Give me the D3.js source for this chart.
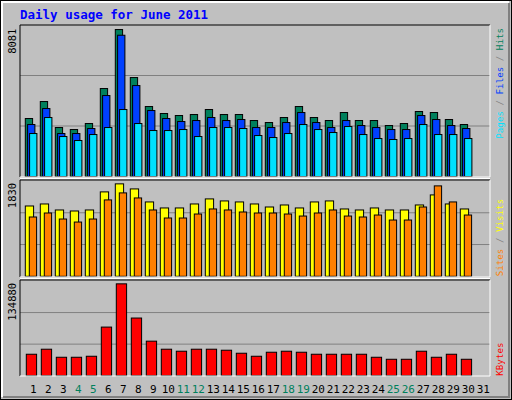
<!DOCTYPE html>
<html><head><meta charset="utf-8">
<script src="https://cdn.jsdelivr.net/npm/d3@7"></script>
<style>body{margin:0;background:#fff}</style></head>
<body><svg id="c" width="512" height="400"></svg>
<script>
const days = d3.range(1, 32);
const weekend = [4,5,11,12,18,19,25,26];
const hits = [3188,4122,2693,2583,2913,4837,8081,5441,3847,3463,3353,3408,3683,3408,3408,3078,2968,3243,3847,3243,3078,3518,3078,3078,2803,2913,3573,3518,3133,2858];
const files = [2858,3737,2363,2363,2638,4452,7768,5001,3627,3188,3023,3078,3243,3078,3133,2693,2693,2968,3517,2968,2693,3078,2803,2693,2583,2583,3353,3133,2803,2638];
const pages = [2363,3243,2198,1979,2308,2693,3683,2913,2528,2528,2583,2198,2693,2693,2638,2253,2143,2363,2858,2583,2418,2748,2308,2088,2034,2088,2858,2308,2308,2088];
const visits = [1392,1432,1313,1293,1313,1671,1830,1730,1472,1353,1353,1432,1532,1492,1472,1432,1372,1412,1353,1472,1492,1333,1313,1353,1313,1313,1412,1611,1432,1333];
const sites = [1174,1253,1134,1074,1134,1512,1651,1551,1313,1154,1154,1233,1333,1313,1273,1253,1253,1233,1193,1253,1313,1193,1174,1213,1114,1114,1372,1790,1472,1213];
const kbytes = [31507,38892,27076,27076,28553,71384,134880,84676,50707,38892,35938,38892,38892,37415,32984,28553,34461,35938,34461,31507,31507,31507,31507,27076,24123,24123,35938,27076,31507,24123];

const svg = d3.select("#c");
const F = "'DejaVu Sans Mono', monospace";
svg.append("rect").attr("x",0).attr("y",0).attr("width",512).attr("height",400).attr("fill","#000");
svg.append("rect").attr("x",1).attr("y",1).attr("width",510).attr("height",398).attr("fill","#c0c0c0");
svg.append("path").attr("d","M2,397V2H509").attr("stroke","#fff").attr("stroke-width",2).attr("fill","none");
svg.append("path").attr("d","M3,397H509V3").attr("stroke","#808080").attr("stroke-width",2).attr("fill","none");

svg.append("text").attr("x",20).attr("y",19).attr("fill","#0000ff").attr("font-family",F)
  .attr("font-weight","bold").attr("font-size",12.5).text("Daily usage for June 2011");

const x = d3.scaleLinear().domain([1,31]).range([25.3, 25.3+30*15]);
const L = 20, R = 490;

function panel(top, bottom, max, series, label, legend, atTop) {
  const h = bottom - top;
  const y = d3.scaleLinear().domain([0, max]).range([bottom, bottom - 0.97*h]);
  const g = svg.append("g");
  [1/3, 2/3].forEach(f => g.append("line").attr("x1",L).attr("x2",R)
    .attr("y1",bottom - f*h).attr("y2",bottom - f*h).attr("stroke","#808080").attr("stroke-width",1));
  series.forEach(s => {
    g.selectAll(null).data(s.data).enter().append("rect")
      .attr("x",(d,i)=>x(i+1)+s.off).attr("width",s.w)
      .attr("y",d=>y(d)).attr("height",d=>bottom-y(d))
      .attr("fill",s.color).attr("stroke","#000").attr("stroke-width",1);
  });
  g.append("text").attr("transform",`translate(16,${y(max)-1}) rotate(-90)`)
    .attr("text-anchor","end").attr("font-family",F).attr("font-size",10.5).attr("fill","#000").text(label);
  const t = g.append("text")
    .attr("transform", atTop ? `translate(503,${top+3}) rotate(-90)` : `translate(503,${bottom}) rotate(-90)`)
    .attr("text-anchor", atTop ? "end" : "start")
    .attr("font-family",F).attr("font-size",9.2);
  legend.forEach((p,i) => {
    if (i>0) t.append("tspan").attr("fill","#808080").text(" / ");
    t.append("tspan").attr("fill",p[1]).text(p[0]);
  });
}
panel(25, 176.5, 8081, [
  {data:hits, color:"#00805c", off:0, w:7.3},
  {data:files, color:"#0040ff", off:2.3, w:7.3},
  {data:pages, color:"#00e0ff", off:4.3, w:7.3}
], "8081", [["Pages","#00e0ff"],["Files","#0040ff"],["Hits","#00805c"]], true);
panel(181, 276.3, 1830, [
  {data:visits, color:"#ffff00", off:0, w:8.3},
  {data:sites, color:"#ff8000", off:4, w:7.3}
], "1830", [["Sites","#ff8000"],["Visits","#ffff00"]], false);
panel(281, 375.7, 134880, [
  {data:kbytes, color:"#ff0000", off:1, w:10.3}
], "134880", [["KBytes","#ff0000"]], false);

[[25,177],[180,277],[280,376]].forEach(([a,b]) => {
  svg.append("path").attr("d",`M${L},${b}V${a}H${R}`).attr("stroke","#000").attr("fill","none");
  svg.append("path").attr("d",`M${L},${b}H${R}V${a}`).attr("stroke","#fff").attr("fill","none");
});
svg.append("line").attr("x1",L).attr("x2",R).attr("y1",178.5).attr("y2",178.5).attr("stroke","#fff");
svg.append("line").attr("x1",L).attr("x2",R).attr("y1",278.5).attr("y2",278.5).attr("stroke","#fff");

svg.selectAll(".d").data(days).enter().append("text")
  .attr("x",d=>x(d)+8).attr("y",393).attr("text-anchor","middle")
  .attr("font-family",F).attr("font-size",11)
  .attr("fill",d=>weekend.includes(d)?"#00805c":"#000").text(d=>d);
</script></body></html>
